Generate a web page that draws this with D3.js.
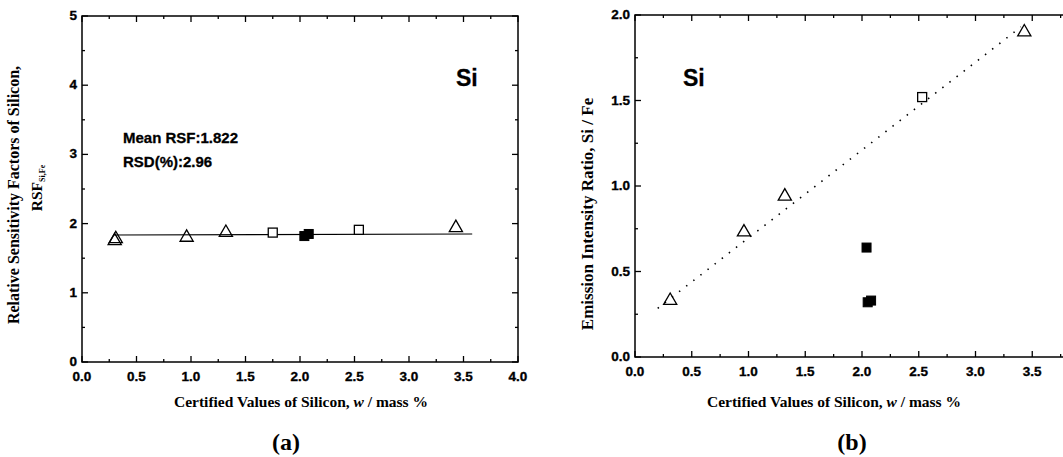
<!DOCTYPE html>
<html>
<head>
<meta charset="utf-8">
<script src="https://cdn.jsdelivr.net/npm/d3@7"></script>
<style>
  body { margin: 0; background: #fff; }
  .tick-label { font-family: "Liberation Sans", Arial, sans-serif; font-weight: bold; font-size: 13.5px; stroke: #000; stroke-width: 0.35px; }
  .title { font-family: "Liberation Serif", "Times New Roman", serif; font-weight: bold; font-size: 15.5px; }
  .note { font-family: "Liberation Sans", Arial, sans-serif; font-weight: bold; stroke: #000; stroke-width: 0.3px; }
</style>
</head>
<body>
<svg id="chart" width="1063" height="457"></svg>
<script>
// panel (a): relative sensitivity factors
var rsfTriangles = [[0.30, 1.75], [0.31, 1.78], [0.96, 1.80], [1.32, 1.87], [3.43, 1.94]]
var rsfSquares = [[1.75, 1.87], [2.54, 1.91]]
var rsfFilled = [[2.04, 1.82], [2.08, 1.85]]
var rsfMeanLine = [[0.29, 1.835], [3.58, 1.85]]

// panel (b): emission intensity ratio
var ratioTriangles = [[0.31, 0.33], [0.96, 0.73], [1.32, 0.94], [3.43, 1.90]]
var ratioSquares = [[2.53, 1.52]]
var ratioFilled = [[2.04, 0.64], [2.05, 0.32], [2.08, 0.33]]
var ratioFitLine = [[0.2, 0.285], [3.4, 1.93]]

var xTicks = [0, 0.5, 1, 1.5, 2, 2.5, 3, 3.5, 4]
var rsfTicks = [0, 1, 2, 3, 4, 5]
var ratioTicks = [0, 0.5, 1, 1.5, 2]

var W = 1063
var svg = d3.select('#chart')

var drawFrame = function(g, x, y, xMinor, yMajor, yMinor, yFmt) {
  var x0 = x.range()[0], x1 = x.range()[1]
    , y0 = y.range()[0], y1 = y.range()[1]

  g.append('rect')
    .attr('x', x0).attr('y', y1)
    .attr('width', x1 - x0).attr('height', y0 - y1)
    .attr('fill', 'none').attr('stroke', '#000').attr('stroke-width', 1.5)

  // x ticks, inward on bottom and top
  xMinor.forEach(function(v) {
    var major = Math.abs(v * 2 - Math.round(v * 2)) < 1e-6
      , len = major ? 6 : 3
    g.append('line').attr('x1', x(v)).attr('x2', x(v)).attr('y1', y0).attr('y2', y0 - len)
      .attr('stroke', '#000').attr('stroke-width', 1.3)
    g.append('line').attr('x1', x(v)).attr('x2', x(v)).attr('y1', y1).attr('y2', y1 + len)
      .attr('stroke', '#000').attr('stroke-width', 1.3)
  })
  // only label ticks that fit in the window
  g.selectAll('text.xlab').data(xTicks.filter(function(d) { return x(d) + 12 < W })).enter().append('text')
    .attr('class', 'tick-label')
    .attr('x', function(d) { return x(d) })
    .attr('y', y0 + 19)
    .attr('text-anchor', 'middle')
    .text(function(d) { return d3.format('.1f')(d) })

  // y ticks, inward on left and right
  yMinor.forEach(function(v) {
    var len = yMajor.indexOf(v) >= 0 ? 6 : 3
    g.append('line').attr('x1', x0).attr('x2', x0 + len).attr('y1', y(v)).attr('y2', y(v))
      .attr('stroke', '#000').attr('stroke-width', 1.3)
    g.append('line').attr('x1', x1).attr('x2', x1 - len).attr('y1', y(v)).attr('y2', y(v))
      .attr('stroke', '#000').attr('stroke-width', 1.3)
  })
  g.selectAll('text.ylab').data(yMajor).enter().append('text')
    .attr('class', 'tick-label')
    .attr('x', x0 - 5)
    .attr('y', function(d) { return y(d) + 4 })
    .attr('text-anchor', 'end')
    .text(yFmt)
}

var drawMarkers = function(g, x, y, tri, sq, filled) {
  var triPath = d3.symbol().type(d3.symbolTriangle).size(75)
  g.selectAll('path.tri').data(tri).enter().append('path')
    .attr('d', triPath)
    .attr('transform', function(d) { return 'translate(' + x(d[0]) + ',' + y(d[1]) + ')' })
    .attr('fill', 'none').attr('stroke', '#000').attr('stroke-width', 1.3)
  g.selectAll('rect.sq').data(sq).enter().append('rect')
    .attr('x', function(d) { return x(d[0]) - 4.5 })
    .attr('y', function(d) { return y(d[1]) - 4.5 })
    .attr('width', 9).attr('height', 9)
    .attr('fill', '#fff').attr('stroke', '#000').attr('stroke-width', 1.3)
  g.selectAll('rect.fill').data(filled).enter().append('rect')
    .attr('x', function(d) { return x(d[0]) - 4.5 })
    .attr('y', function(d) { return y(d[1]) - 4.5 })
    .attr('width', 9).attr('height', 9)
    .attr('fill', '#000').attr('stroke', '#000')
}

var xTitle = function(g, cx) {
  var t = g.append('text').attr('class', 'title')
    .attr('x', cx).attr('y', 407).attr('text-anchor', 'middle')
  t.append('tspan').text('Certified Values of Silicon, ')
  t.append('tspan').style('font-style', 'italic').text('w')
  t.append('tspan').text(' / mass %')
}

var quarterTicks = d3.range(0, 4.01, 0.25)

// ---- panel (a)
var xa = d3.scaleLinear().domain([0, 4]).range([82, 518])
  , ya = d3.scaleLinear().domain([0, 5]).range([362, 16])
  , ga = svg.append('g')

drawFrame(ga, xa, ya, quarterTicks, rsfTicks, d3.range(0, 5.01, 0.5), function(d) { return d })

ga.append('path')
  .attr('d', d3.line().x(function(d) { return xa(d[0]) }).y(function(d) { return ya(d[1]) })(rsfMeanLine))
  .attr('stroke', '#000').attr('stroke-width', 1.2).attr('fill', 'none')

drawMarkers(ga, xa, ya, rsfTriangles, rsfSquares, rsfFilled)

ga.append('text').attr('class', 'note').attr('x', 123).attr('y', 143).style('font-size', '15px').text('Mean RSF:1.822')
ga.append('text').attr('class', 'note').attr('x', 123).attr('y', 167).style('font-size', '15px').text('RSD(%):2.96')
ga.append('text').attr('class', 'note').attr('x', 456).attr('y', 86).style('font-size', '23px').text('Si')

ga.append('text').attr('class', 'title')
  .attr('transform', 'translate(19,195) rotate(-90)')
  .attr('text-anchor', 'middle')
  .style('font-size', '16px')
  .text('Relative Sensitivity Factors of Silicon,')
var rsfLab = ga.append('text').attr('class', 'title')
  .attr('transform', 'translate(42,188) rotate(-90)')
  .attr('text-anchor', 'middle')
  .style('font-size', '15.5px')
rsfLab.append('tspan').text('RSF')
rsfLab.append('tspan').style('font-size', '8px').attr('dy', 3).text('Si,Fe')

xTitle(ga, 301)

ga.append('text').attr('class', 'title').style('font-size', '24px')
  .attr('x', 286).attr('y', 450).attr('text-anchor', 'middle').text('(a)')

// ---- panel (b)
var xb = d3.scaleLinear().domain([0, 4]).range([635, 1089])
  , yb = d3.scaleLinear().domain([0, 2]).range([357, 15])
  , gb = svg.append('g')

drawFrame(gb, xb, yb, quarterTicks, ratioTicks, d3.range(0, 2.01, 0.25), d3.format('.1f'))

gb.append('path')
  .attr('d', d3.line().x(function(d) { return xb(d[0]) }).y(function(d) { return yb(d[1]) })(ratioFitLine))
  .attr('stroke', '#000').attr('stroke-width', 1.6).attr('fill', 'none')
  .attr('stroke-dasharray', '1.5,7.5')

drawMarkers(gb, xb, yb, ratioTriangles, ratioSquares, ratioFilled)

gb.append('text').attr('class', 'note').attr('x', 683).attr('y', 86).style('font-size', '23px').text('Si')

gb.append('text').attr('class', 'title')
  .attr('transform', 'translate(593,214) rotate(-90)')
  .attr('text-anchor', 'middle')
  .style('font-size', '17px')
  .text('Emission Intensity Ratio, Si / Fe')

xTitle(gb, 834)

gb.append('text').attr('class', 'title').style('font-size', '24px')
  .attr('x', 852).attr('y', 450).attr('text-anchor', 'middle').text('(b)')
</script>
</body>
</html>
